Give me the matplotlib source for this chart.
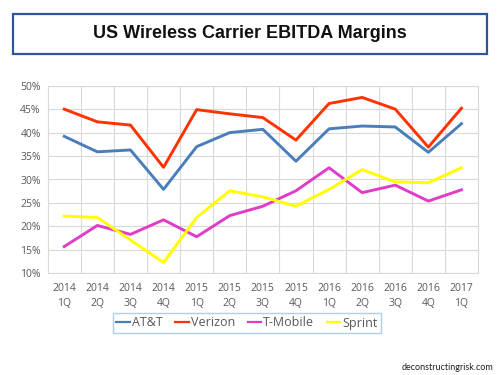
import matplotlib
matplotlib.use("Agg")
import matplotlib.pyplot as plt
from matplotlib.patches import Rectangle
from matplotlib.ticker import MultipleLocator, FuncFormatter

years = ["2014", "2014", "2014", "2014", "2015", "2015", "2015", "2015",
         "2016", "2016", "2016", "2016", "2017"]
quarters = ["1Q", "2Q", "3Q", "4Q", "1Q", "2Q", "3Q", "4Q",
            "1Q", "2Q", "3Q", "4Q", "1Q"]

att = [39.2, 35.9, 36.3, 27.9, 37.0, 40.0, 40.7, 33.9, 40.8, 41.4, 41.2, 35.8, 41.9]
verizon = [45.0, 42.3, 41.6, 32.6, 44.9, 44.0, 43.2, 38.4, 46.2, 47.5, 45.0, 36.9, 45.2]
tmobile = [15.7, 20.2, 18.3, 21.4, 17.8, 22.3, 24.3, 27.6, 32.5, 27.2, 28.8, 25.4, 27.8]
sprint = [22.2, 21.9, 17.1, 12.3, 21.9, 27.6, 26.3, 24.3, 27.9, 32.1, 29.5, 29.3, 32.5]

series = [("AT&T", att, "#4A7EBB"),
          ("Verizon", verizon, "#FF3300"),
          ("T-Mobile", tmobile, "#E03CC8"),
          ("Sprint", sprint, "#FFFF00")]

body_font = ["Open Sans", "DejaVu Sans"]
grey = "#595959"
grid = "#D9D9D9"

fig = plt.figure(figsize=(5, 3.75), dpi=100)
fig.patch.set_facecolor("white")

# title box
fig.patches.append(Rectangle((13 / 500, 1 - 54 / 375), 474 / 500, 40 / 375,
                             transform=fig.transFigure, facecolor="white",
                             edgecolor="#2F5597", linewidth=1.6))
fig.text(0.5, 1 - 34 / 375, "US Wireless Carrier EBITDA Margins",
         ha="center", va="center", fontsize=13, fontweight="bold",
         family=["Liberation Sans", "DejaVu Sans"], color="#111111")

ax = fig.add_axes([47.7 / 500, 1 - 273.3 / 375, 430.3 / 500, 187.6 / 375])
x = list(range(len(years)))
for name, vals, color in series:
    ax.plot(x, vals, color=color, linewidth=2.1, label=name)

ax.set_xlim(-0.5, len(years) - 0.5)
ax.set_ylim(10, 50)
ax.yaxis.set_major_locator(MultipleLocator(5))
ax.yaxis.set_major_formatter(FuncFormatter(lambda v, _: f"{v:.0f}%"))
ax.set_xticks(x)
ax.set_xticklabels([f"{y}\n{q}" for y, q in zip(years, quarters)])
ax.set_xticks([i + 0.5 for i in x[:-1]], minor=True)
ax.grid(axis="y", which="major", color=grid, linewidth=0.8)
ax.grid(axis="x", which="minor", color=grid, linewidth=0.8)
ax.set_axisbelow(True)
for s in ax.spines.values():
    s.set_color(grid)
    s.set_linewidth(0.8)
ax.tick_params(axis="both", which="both", length=0, colors=grey, labelsize=7.5)
ax.tick_params(axis="x", pad=7)
ax.tick_params(axis="y", pad=5)
for lab in ax.get_xticklabels() + ax.get_yticklabels():
    lab.set_family(body_font)
    lab.set_linespacing(1.5)

leg = fig.legend(loc="center", bbox_to_anchor=(247 / 500, 1 - 323 / 375),
                 ncol=4, frameon=True, fancybox=False,
                 prop={"family": body_font, "size": 9},
                 handlelength=1.1, handletextpad=0.15, columnspacing=1.0,
                 borderpad=0.3)
leg.get_frame().set_edgecolor("#9DC3E6")
leg.get_frame().set_linewidth(1.0)
for t in leg.get_texts():
    t.set_color(grey)
for h in leg.get_lines():
    h.set_linewidth(1.6)

fig.text(493 / 500, 1 - 367 / 375, "deconstructingrisk.com", ha="right",
         va="center", fontsize=6.5, color="#222222", family=["Lato", "DejaVu Sans"])

fig.savefig("out.png", dpi=100)
